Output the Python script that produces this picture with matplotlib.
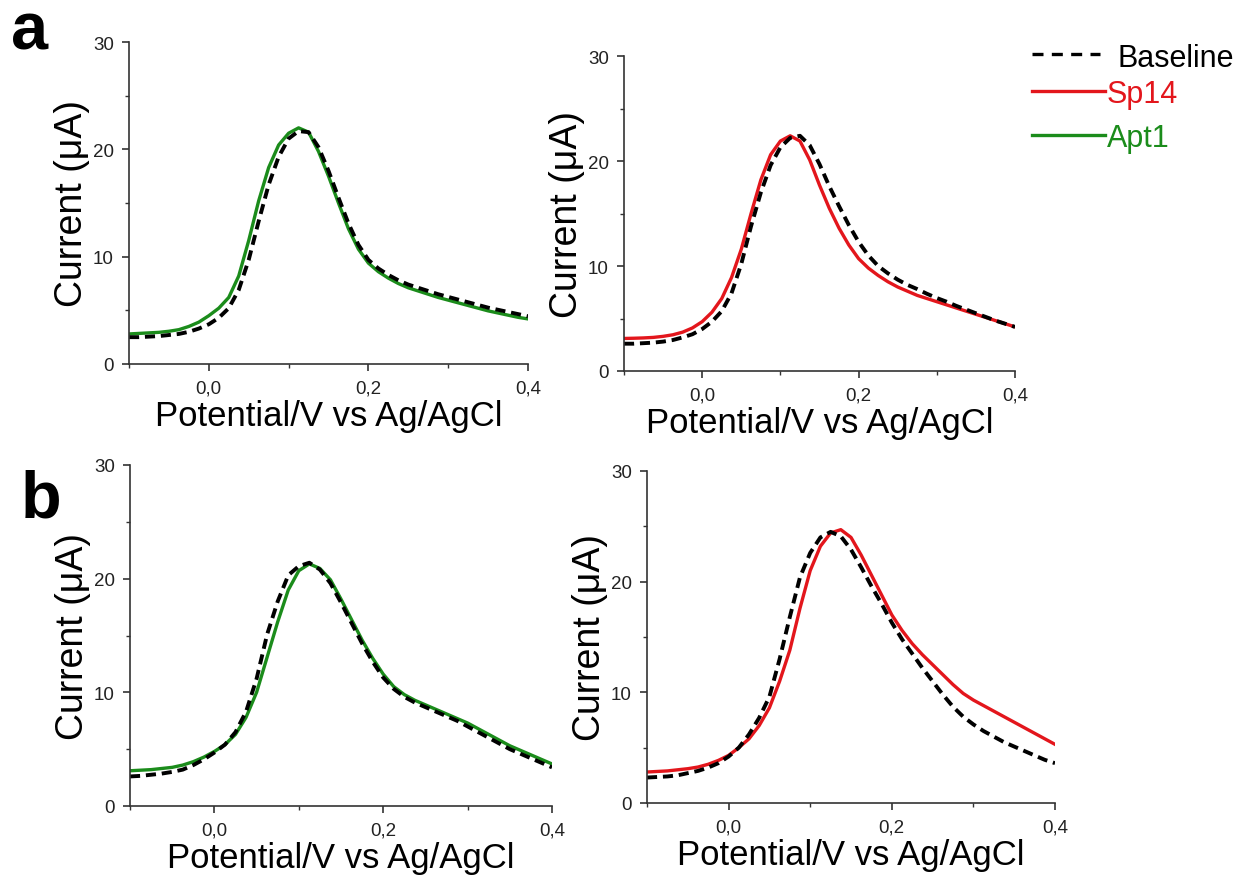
import matplotlib.pyplot as plt
from matplotlib.lines import Line2D
from matplotlib.ticker import MultipleLocator, FixedLocator, FixedFormatter

plt.rcParams['font.family'] = ['Liberation Sans', 'DejaVu Sans']

# potential grid (V vs Ag/AgCl) shared by all traces
V = [-0.1, -0.0875, -0.075, -0.0625, -0.05, -0.0375, -0.025, -0.0125,
     0.0, 0.0125, 0.025, 0.0375, 0.05, 0.0625, 0.075, 0.0875,
     0.1, 0.1125, 0.125, 0.1375, 0.15, 0.1625, 0.175, 0.1875,
     0.2, 0.2125, 0.225, 0.2375, 0.25, 0.2625, 0.275, 0.2875,
     0.3, 0.3125, 0.325, 0.3375, 0.35, 0.3625, 0.375, 0.3875, 0.4]

# (a) left: baseline vs Apt1
a1_base = [2.5, 2.5, 2.55, 2.6, 2.7, 2.8, 3.0, 3.3,
           3.7, 4.3, 5.2, 6.9, 9.7, 13.3, 16.7, 19.3,
           21.0, 21.7, 21.6, 20.2, 18.0, 15.5, 13.1, 11.1,
           9.7, 8.9, 8.3, 7.8, 7.4, 7.1, 6.8, 6.5,
           6.25, 6.0, 5.75, 5.5, 5.25, 5.05, 4.85, 4.65, 4.45]
a1_apt1 = [2.8, 2.85, 2.9, 2.95, 3.05, 3.2, 3.5, 3.9,
           4.5, 5.2, 6.2, 8.2, 11.5, 15.2, 18.3, 20.4,
           21.5, 22.0, 21.6, 19.8, 17.5, 15.0, 12.6, 10.7,
           9.4, 8.6, 8.0, 7.5, 7.1, 6.8, 6.5, 6.2,
           5.95, 5.7, 5.45, 5.2, 4.95, 4.75, 4.55, 4.35, 4.2]

# (a) right: baseline vs Sp14
a2_base = [2.6, 2.6, 2.65, 2.7, 2.8, 2.95, 3.2, 3.5,
           4.0, 4.7, 5.7, 7.4, 10.2, 13.8, 17.0, 19.6,
           21.3, 22.2, 22.4, 21.5, 19.7, 17.6, 15.7, 13.9,
           12.3, 11.0, 10.0, 9.3, 8.7, 8.2, 7.8, 7.35,
           6.95, 6.6, 6.2, 5.85, 5.5, 5.15, 4.8, 4.5, 4.2]
a2_sp14 = [3.1, 3.12, 3.15, 3.2, 3.3, 3.45, 3.7, 4.1,
           4.7, 5.6, 6.9, 8.9, 11.6, 15.0, 18.2, 20.6,
           21.9, 22.4, 21.9, 20.1, 17.7, 15.5, 13.6, 12.0,
           10.7, 9.8, 9.1, 8.5, 8.0, 7.6, 7.2, 6.9,
           6.6, 6.3, 6.0, 5.7, 5.4, 5.1, 4.8, 4.5, 4.2]

# (b) left: baseline vs Apt1
b1_base = [2.6, 2.65, 2.75, 2.85, 3.0, 3.2, 3.6, 4.1,
           4.7, 5.4, 6.5, 8.3, 11.2, 15.1, 18.0, 20.3,
           21.1, 21.4, 20.8, 19.6, 17.9, 16.1, 14.3, 12.7,
           11.3, 10.3, 9.6, 9.1, 8.7, 8.3, 7.9, 7.5,
           7.0, 6.5, 6.0, 5.5, 5.0, 4.6, 4.2, 3.8, 3.4]
b1_apt1 = [3.1, 3.15, 3.2, 3.3, 3.4, 3.6, 3.9, 4.3,
           4.8, 5.4, 6.3, 7.8, 10.0, 13.1, 16.2, 19.0,
           20.7, 21.3, 20.9, 19.9, 18.2, 16.4, 14.6, 13.0,
           11.6, 10.5, 9.8, 9.3, 8.9, 8.5, 8.1, 7.7,
           7.3, 6.8, 6.3, 5.8, 5.3, 4.9, 4.5, 4.1, 3.7]

# (b) right: baseline vs Sp14
b2_base = [2.3, 2.35, 2.4, 2.5, 2.7, 2.9, 3.2, 3.6,
           4.2, 5.0, 6.2, 7.7, 9.6, 13.0, 16.8, 20.4,
           22.6, 24.0, 24.5, 24.1, 22.9, 21.3, 19.6, 18.0,
           16.3, 14.8, 13.5, 12.2, 11.0, 9.8, 8.7, 7.8,
           7.1, 6.5, 6.0, 5.5, 5.1, 4.7, 4.3, 3.9, 3.6]
b2_sp14 = [2.8, 2.85, 2.9, 3.0, 3.1, 3.25, 3.5, 3.85,
           4.3, 5.0, 5.8, 7.0, 8.6, 11.0, 13.8, 17.6,
           21.0, 23.2, 24.4, 24.7, 24.0, 22.4, 20.6, 18.8,
           17.0, 15.6, 14.4, 13.4, 12.5, 11.6, 10.7, 9.9,
           9.3, 8.8, 8.3, 7.8, 7.3, 6.8, 6.3, 5.8, 5.3]

GREEN = '#1b8c1b'
RED = '#e3161c'
DASH = (0, (2.6, 1.5))

W, H = 1239, 878
fig = plt.figure(figsize=(W / 100, H / 100), dpi=100)


def make_ax(x0, x1, ytop, ybot):
    ax = fig.add_axes([x0 / W, 1 - ybot / H, (x1 - x0) / W, (ybot - ytop) / H])
    ax.set_xlim(-0.1, 0.4)
    ax.set_ylim(0, 30)
    ax.spines['top'].set_visible(False)
    ax.spines['right'].set_visible(False)
    for s in ('left', 'bottom'):
        ax.spines[s].set_linewidth(1.2)
        ax.spines[s].set_color('#333333')
    ax.xaxis.set_major_locator(FixedLocator([0.0, 0.2, 0.4]))
    ax.xaxis.set_major_formatter(FixedFormatter(['0,0', '0,2', '0,4']))
    ax.xaxis.set_minor_locator(FixedLocator([-0.1, 0.1, 0.3]))
    ax.yaxis.set_major_locator(MultipleLocator(10))
    ax.yaxis.set_minor_locator(MultipleLocator(5))
    ax.tick_params(which='major', direction='out', length=5, width=1.2,
                   labelsize=13.5, pad=6, colors='#333333', labelcolor='#222222')
    ax.tick_params(which='minor', direction='out', length=3, width=1.0,
                   colors='#333333')
    ax.set_xlabel('Potential/V vs Ag/AgCl', fontsize=25, labelpad=2)
    ax.set_ylabel('Current (μA)', fontsize=27, labelpad=2)
    return ax


ax1 = make_ax(129, 528, 43, 365)
ax1.plot(V, a1_apt1, color=GREEN, lw=2.4)
ax1.plot(V, a1_base, color='black', lw=2.8, ls=DASH)

ax2 = make_ax(624, 1015, 57, 372)
ax2.plot(V, a2_sp14, color=RED, lw=2.4)
ax2.plot(V, a2_base, color='black', lw=2.8, ls=DASH)

ax3 = make_ax(130, 552, 466, 807)
ax3.plot(V, b1_apt1, color=GREEN, lw=2.4)
ax3.plot(V, b1_base, color='black', lw=2.8, ls=DASH)

ax4 = make_ax(647, 1055, 472, 804)
ax4.plot(V, b2_sp14, color=RED, lw=2.4)
ax4.plot(V, b2_base, color='black', lw=2.8, ls=DASH)

# legend drawn by hand in figure pixels
legend_rows = [('Baseline', 'black', (0, (3.3, 2.5)), 1100, 1117, 55, 67),
               ('Sp14', RED, '-', 1105, 1107, 92, 103),
               ('Apt1', GREEN, '-', 1105, 1107, 136, 147)]
for name, col, ls, x_end, x_txt, y_line, y_txt in legend_rows:
    fig.add_artist(Line2D([1032 / W, x_end / W], [1 - y_line / H, 1 - y_line / H],
                          transform=fig.transFigure, color=col, lw=2.4, ls=ls))
    fig.text(x_txt / W, 1 - y_txt / H, name, color=col, fontsize=22,
             va='baseline', ha='left')

fig.text(11 / W, 1 - 50 / H, 'a', fontsize=48, fontweight='bold')
fig.text(21 / W, 1 - 517 / H, 'b', fontsize=48, fontweight='bold')

fig.savefig('out.png', dpi=100)
